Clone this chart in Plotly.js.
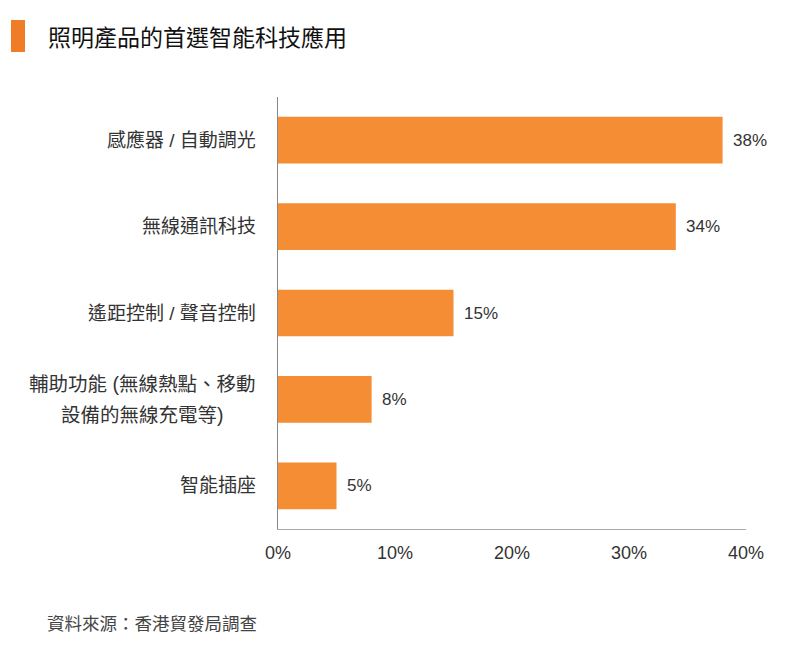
<!DOCTYPE html>
<html>
<head>
<meta charset="utf-8">
<script src="https://cdn.plot.ly/plotly-3.0.1.min.js"></script>
<style>
body { margin: 0; background: #fff; }
#chart { width: 796px; height: 656px; }
</style>
</head>
<body>
<div id="chart"></div>
<script>
const categories = ["感應器 / 自動調光", "無線通訊科技", "遙距控制 / 聲音控制", "輔助功能 (無線熱點、移動<br>設備的無線充電等)", "智能插座"];
const values = [38, 34, 15, 8, 5];
const valueLabels = ["38%", "34%", "15%", "8%", "5%"];
const tickVals = [0, 10, 20, 30, 40];
const tickText = ["0%", "10%", "20%", "30%", "40%"];

const font = "Liberation Sans, Arial, Noto Sans CJK TC, sans-serif";
const W = 468; // plot width in px, to turn px offsets into paper units

let annotations = [];
for (let i = 0; i < categories.length; i++) {
	let lines = categories[i].split("<br>");
	if (lines.length == 1) {
		annotations.push({
			x: 0, xref: "paper", y: categories[i], yref: "y",
			xanchor: "right", xshift: -20,
			text: lines[0], showarrow: false,
			font: {family: font, size: 19, color: "#333"}
		});
	} else {
		// two lines, centred on each other, wider spacing than plotly's default
		for (let j = 0; j < lines.length; j++) {
			annotations.push({
				x: (142 - 278) / W, xref: "paper", y: categories[i], yref: "y",
				xanchor: "center", yshift: (lines.length - 1) * 15.5 - j * 31,
				text: lines[j], showarrow: false,
				font: {family: font, size: 19.5, color: "#333"}
			});
		}
	}
	annotations.push({
		x: values[i], y: categories[i],
		xanchor: "left", xshift: 8,
		text: valueLabels[i], showarrow: false,
		font: {family: font, size: 17, color: "#333"}
	});
}
annotations.push({
	x: (45 - 278) / W, xref: "paper", y: -0.22, yref: "paper",
	xanchor: "left", yanchor: "middle",
	text: "資料來源：香港貿發局調查", showarrow: false,
	font: {family: font, size: 17.5, color: "#444"}
});

let trace = {
	type: "bar",
	orientation: "h",
	x: values,
	y: categories,
	marker: {color: "#f58d35"},
	hoverinfo: "none"
};

let layout = {
	width: 796, height: 656,
	margin: {l: 278, r: 50, t: 97, b: 127},
	paper_bgcolor: "#fff", plot_bgcolor: "#fff",
	bargap: 0.46,
	showlegend: false,
	title: {
		text: "照明產品的首選智能科技應用",
		xref: "container", x: 48 / 796, xanchor: "left",
		yref: "container", y: 1 - 38 / 656, yanchor: "middle",
		font: {family: font, size: 23, color: "#111"}
	},
	xaxis: {
		range: [0, 40], tickvals: tickVals, ticktext: tickText,
		showgrid: false, zeroline: false,
		showline: true, linecolor: "#aaa", linewidth: 1,
		ticks: "", ticklabelstandoff: 7,
		tickfont: {family: font, size: 18, color: "#333"}
	},
	yaxis: {
		autorange: "reversed", showticklabels: false,
		showgrid: false, zeroline: false,
		showline: true, linecolor: "#888", linewidth: 1, ticks: ""
	},
	shapes: [{
		type: "rect", xref: "paper", yref: "paper",
		x0: (11 - 278) / W, x1: (25 - 278) / W,
		y0: (529 - 52) / 432, y1: (529 - 20) / 432,
		fillcolor: "#f07c28", line: {width: 0}
	}],
	annotations: annotations
};

Plotly.newPlot("chart", [trace], layout, {displayModeBar: false, staticPlot: true});
</script>
</body>
</html>
